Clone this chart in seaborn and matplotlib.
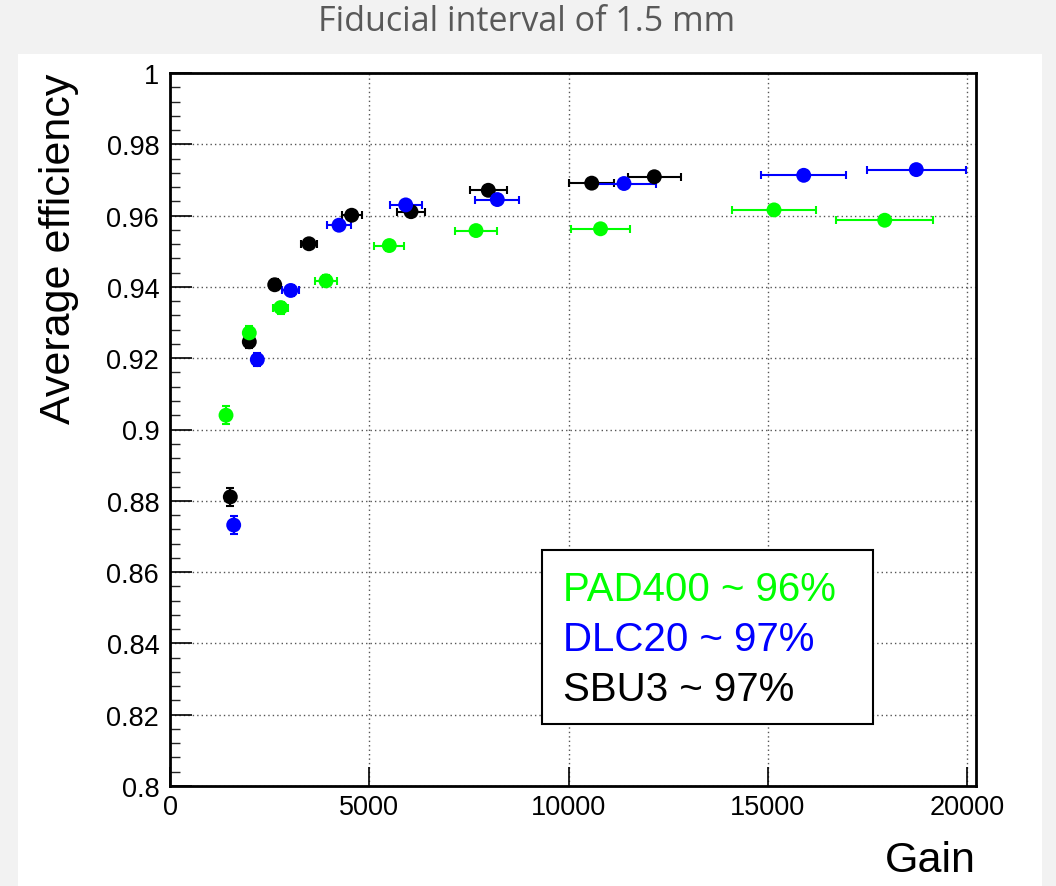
import numpy as np
import pandas as pd
import matplotlib
matplotlib.use("Agg")
import matplotlib.pyplot as plt
from matplotlib.patches import Rectangle
from matplotlib.ticker import FixedLocator, MultipleLocator
import seaborn as sns

# ---------------- data ----------------
series_names = ["SBU3", "DLC20", "PAD400"]

gain_pad400 = [1399, 1984, 2773, 3910, 5500, 7677, 10804, 15161, 17941]
eff_pad400 = [0.9040, 0.9271, 0.9342, 0.9417, 0.9516, 0.9558, 0.9563, 0.9616, 0.9587]
xerr_pad400 = [60, 80, 190, 285, 380, 520, 750, 1045, 1215]
yerr_pad400 = [0.0025, 0.0020, 0.0017, 0.0015, 0.0014, 0.0010, 0.0009, 0.0008, 0.0008]

gain_dlc20 = [1592, 2185, 3024, 4237, 5912, 8212, 11394, 15907, 18734]
eff_dlc20 = [0.8732, 0.9196, 0.9390, 0.9573, 0.9630, 0.9645, 0.9690, 0.9713, 0.9729]
xerr_dlc20 = [60, 100, 210, 290, 400, 550, 800, 1063, 1250]
yerr_dlc20 = [0.0025, 0.0018, 0.0016, 0.0013, 0.0011, 0.0009, 0.0008, 0.0008, 0.0008]

gain_sbu3 = [1507, 1984, 2622, 3483, 4555, 6045, 7986, 10583, 12155]
eff_sbu3 = [0.8811, 0.9246, 0.9406, 0.9521, 0.9601, 0.9611, 0.9671, 0.9691, 0.9709]
xerr_sbu3 = [60, 80, 110, 210, 250, 345, 460, 570, 668]
yerr_sbu3 = [0.0025, 0.0018, 0.0016, 0.0013, 0.0011, 0.0009, 0.0008, 0.0008, 0.0008]

legend_labels = ["PAD400 ~ 96%", "DLC20 ~ 97%", "SBU3 ~ 97%"]
title_text = "Fiducial interval of 1.5 mm"
xlabel_text = "Gain"
ylabel_text = "Average efficiency"
xticks = [0, 5000, 10000, 15000, 20000]
xtick_labels = ["0", "5000", "10000", "15000", "20000"]
yticks = [0.80, 0.82, 0.84, 0.86, 0.88, 0.90, 0.92, 0.94, 0.96, 0.98, 1.00]
ytick_labels = ["0.8", "0.82", "0.84", "0.86", "0.88", "0.9", "0.92", "0.94", "0.96", "0.98", "1"]

colors = {"PAD400": "#00ff00", "DLC20": "#0000ff", "SBU3": "#000000"}

frames = []
for name, g, e, xe, ye in [
    ("SBU3", gain_sbu3, eff_sbu3, xerr_sbu3, yerr_sbu3),
    ("DLC20", gain_dlc20, eff_dlc20, xerr_dlc20, yerr_dlc20),
    ("PAD400", gain_pad400, eff_pad400, xerr_pad400, yerr_pad400),
]:
    frames.append(pd.DataFrame({"gain": g, "eff": e, "xerr": xe, "yerr": ye, "det": name}))
df = pd.concat(frames, ignore_index=True)

# ---------------- style ----------------
sns.set_style("ticks")
plt.rcParams["font.family"] = ["Liberation Sans", "DejaVu Sans"]
plt.rcParams["text.color"] = "black"
plt.rcParams["axes.labelcolor"] = "black"

W, H = 1056, 887
fig = plt.figure(figsize=(W / 100, H / 100), dpi=100)
fig.patch.set_facecolor("#f2f2f2")
fig.patches.append(Rectangle((18 / W, 0), (1042 - 18) / W, 1 - 55 / H,
                             transform=fig.transFigure, facecolor="white",
                             edgecolor="none", zorder=-10))

ax_l, ax_r, ax_t, ax_b = 170.3, 976, 74, 787
ax = fig.add_axes([ax_l / W, 1 - ax_b / H, (ax_r - ax_l) / W, (ax_b - ax_t) / H])
ax.set_facecolor("white")

# error bars
for name in series_names:
    d = df[df.det == name]
    ax.errorbar(d.gain, d.eff, xerr=d.xerr, yerr=d.yerr, fmt="none",
                ecolor=colors[name], elinewidth=1.5, capsize=3, capthick=1.5, zorder=3)
# markers via seaborn
sns.scatterplot(data=df, x="gain", y="eff", hue="det", palette=colors,
                hue_order=series_names, s=115, edgecolor="none", linewidth=0,
                legend=False, ax=ax, zorder=4)

ax.set_xlim(0, 20000 * (ax_r - ax_l) / (966.7 - ax_l))
ax.set_ylim(0.8, 1.0)

ax.xaxis.set_major_locator(FixedLocator(xticks))
ax.set_xticklabels(xtick_labels)
ax.yaxis.set_major_locator(FixedLocator(yticks))
ax.set_yticklabels(ytick_labels)
ax.yaxis.set_minor_locator(MultipleLocator(0.004))

ax.tick_params(axis="both", which="major", direction="in", labelsize=19.5,
               colors="black", labelcolor="black", width=1.2)
ax.tick_params(axis="y", which="major", length=16, pad=8)
ax.tick_params(axis="x", which="major", length=14, pad=6)
ax.tick_params(axis="y", which="minor", direction="in", length=7, width=1.0)

ax.grid(True, which="major", color="#555555", linestyle=(0, (1, 2.2)), linewidth=1.0)
ax.set_axisbelow(True)
for s in ax.spines.values():
    s.set_linewidth(2.0)
    s.set_color("black")

ax.set_xlabel(xlabel_text, loc="right", fontsize=31, labelpad=14, color="black")
ax.set_ylabel(ylabel_text, loc="top", fontsize=31, labelpad=20, color="black")

# title
fig.text(527 / W, 1 - 22 / H, title_text, ha="center", va="center",
         fontsize=24.5, color="#595959", family=["Open Sans", "DejaVu Sans"])

# legend box
bx0, bx1, by0, by1 = 542, 873, 551, 725
def to_ax(px, py):
    return (px - ax_l) / (ax_r - ax_l), 1 - (py - ax_t) / (ax_b - ax_t)
x0, y1 = to_ax(bx0, by0)
x1, y0 = to_ax(bx1, by1)
ax.add_patch(Rectangle((x0, y0), x1 - x0, y1 - y0, transform=ax.transAxes,
                       facecolor="white", edgecolor="black", linewidth=1.5, zorder=6))
for lab, py, c in zip(legend_labels, [590, 640, 690],
                      [colors["PAD400"], colors["DLC20"], colors["SBU3"]]):
    tx, ty = to_ax(563, py)
    ax.text(tx, ty, lab, transform=ax.transAxes, ha="left", va="center",
            fontsize=29, color=c, zorder=7)

fig.savefig("out.png", dpi=100, facecolor=fig.get_facecolor())
